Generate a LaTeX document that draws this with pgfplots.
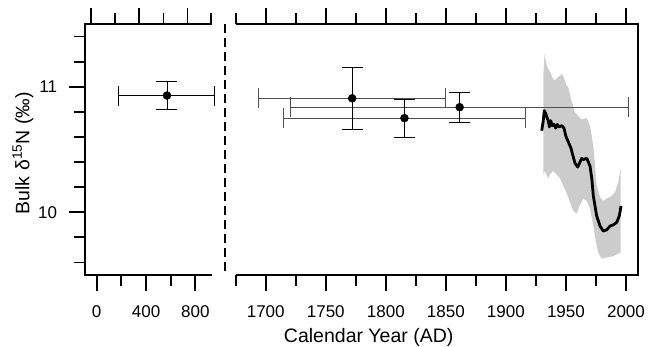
\documentclass[border=0pt]{standalone}
\usepackage{fontspec}
\setmainfont{Liberation Sans}
\usepackage{pgfplots}
\pgfplotsset{compat=1.18}
\definecolor{band}{RGB}{204,204,204}
\definecolor{errgray}{RGB}{80,80,80}
\newcommand\tickfont{\fontsize{17}{20}\selectfont}
\newcommand\labfont{\fontsize{19.5}{23}\selectfont}
\pgfplotsset{
  common/.style={
    scale only axis, height=251pt, ymin=9.5, ymax=11.5,
    axis line style={draw=none},
    tick align=outside,
    tick style={line width=1.8pt, black},
    major tick length=15.5pt, minor tick length=10.5pt,
    tick label style={font=\tickfont},
    xticklabel style={yshift=-11.5pt},
    yticklabel style={xshift=-9pt},
    /pgf/number format/assume math mode=true,
    /pgf/number format/1000 sep={},
    clip=false,
  },
  myxerr/.style={only marks, mark=none, error bars/.cd, x dir=both, x explicit,
    error bar style={#1, line width=0.9pt},
    error mark options={#1, line width=0.9pt, mark size=10pt, rotate=90}},
  myyerr/.style={black, only marks, mark=*, mark size=4pt, error bars/.cd, y dir=both, y explicit,
    error bar style={black, line width=0.9pt},
    error mark options={black, line width=0.9pt, mark size=10.5pt, rotate=90}},
}
\begin{document}
\begin{tikzpicture}
\path[use as bounding box] (0,0) rectangle (656pt,346pt);
% left panel
\begin{axis}[common, at={(85pt,71pt)}, anchor=south west, width=127pt,
  xmin=-95, xmax=935,
  xtick pos=left, ytick pos=left,
  xtick={0,400,800}, minor xtick={200,600},
  ytick={10,11}, minor ytick={9.6,9.8,10.2,10.4,10.6,10.8,11.2,11.4},
  ylabel={\labfont Bulk δ\textsuperscript{15}N (‰)},
  ylabel style={at={(axis description cs:-0.488,0.485)}, anchor=center},
]
\draw[line width=1.8pt, line join=miter] (rel axis cs:1,1) -- (rel axis cs:0,1) -- (rel axis cs:0,0) -- (rel axis cs:1,0);
\addplot[myxerr=black] coordinates {(567.5,10.93) +- (387.5,0)};
\addplot[myyerr] coordinates {(570,10.93) +- (0,0.11)};
\end{axis}
% left panel top ticks (offset in the original)
\begin{axis}[common, at={(85pt,71pt)}, anchor=south west, width=127pt,
  xmin=-95, xmax=935,
  xtick pos=right, xticklabels={}, ytick=\empty,
  xtick={-49,345,737}, minor xtick={148,541,930},
]
\end{axis}
\draw[line width=2pt, dash pattern=on 9pt off 5pt] (224.5pt,322pt) -- (224.5pt,71pt);
% right panel
\begin{axis}[common, at={(235.7pt,71pt)}, anchor=south west, width=402.3pt,
  xmin=1675, xmax=2010,
  xtick pos=both, xticklabel pos=left, ytick pos=right,
  xtick={1700,1750,1800,1850,1900,1950,2000},
  minor xtick={1675,1725,1775,1825,1875,1925,1975},
  ytick=\empty, minor ytick={9.6,9.8,10,10.2,10.4,10.6,10.8,11,11.2,11.4},
  xlabel={\labfont Calendar Year (AD)},
  xlabel style={at={(axis description cs:0.3306,-0.268)}, anchor=base},
]
\draw[line width=1.8pt, line join=miter] (rel axis cs:0,1) -- (rel axis cs:1,1) -- (rel axis cs:1,0) -- (rel axis cs:0,0);
\addplot[fill=band, draw=none] coordinates {
  (1931.2,11.10) (1932.2,11.26) (1933.0,11.22) (1934.0,11.17) (1935.3,11.14)
  (1936.7,11.12) (1939.4,11.06) (1940.5,11.05) (1943.8,11.08) (1946.5,11.10)
  (1948.0,11.08) (1950.5,11.01) (1951.8,11.00) (1954.6,10.89) (1957.3,10.80)
  (1960.0,10.77) (1963.0,10.74) (1967.3,10.75) (1970.0,10.69) (1972.8,10.53)
  (1974.2,10.37) (1975.6,10.21) (1978.4,10.12) (1981.1,10.09) (1983.9,10.11)
  (1988.1,10.13) (1990.9,10.16) (1993.6,10.24) (1995.6,10.35)
  (1995.6,9.68) (1993.6,9.67) (1989.5,9.65) (1983.9,9.64) (1979.7,9.63)
  (1976.9,9.68) (1975.0,9.76) (1972.8,9.89) (1970.0,10.03) (1967.3,10.09)
  (1964.5,10.11) (1961.7,10.06) (1959.0,9.99) (1956.2,10.01) (1953.4,10.08)
  (1950.7,10.15) (1947.9,10.21) (1945.1,10.27) (1942.2,10.30) (1939.4,10.33)
  (1936.7,10.30) (1935.3,10.27) (1932.2,10.33) (1931.2,10.30)
} -- cycle;
\addplot[black, line width=2.8pt, line join=round] coordinates {
  (1929.8,10.65) (1931.0,10.72) (1932.0,10.81) (1933.0,10.79) (1934.0,10.76)
  (1935.3,10.73) (1936.2,10.68) (1937.3,10.73) (1938.7,10.69) (1940.1,10.70)
  (1941.5,10.67) (1942.8,10.70) (1944.2,10.68) (1946.5,10.69) (1948.4,10.67)
  (1949.8,10.61) (1952.0,10.56) (1954.2,10.51) (1956.1,10.44) (1957.6,10.39)
  (1959.8,10.36) (1961.7,10.40) (1963.1,10.43) (1964.5,10.42) (1967.3,10.43)
  (1970.0,10.37) (1971.5,10.27) (1972.8,10.13) (1975.6,9.97) (1978.4,9.89)
  (1981.1,9.85) (1983.9,9.86) (1986.7,9.89) (1989.5,9.90) (1992.3,9.92)
  (1994.4,9.97) (1995.9,10.05)
};
\addplot[myxerr=errgray] coordinates {(1772,10.908) +- (78,0) (1815.5,10.75) +- (100.5,0) (1861.5,10.837) +- (140.5,0)};
\addplot[myyerr] coordinates {(1772,10.908) +- (0,0.248) (1815.5,10.75) +- (0,0.15) (1861.5,10.837) +- (0,0.12)};
\end{axis}
\end{tikzpicture}
\end{document}
